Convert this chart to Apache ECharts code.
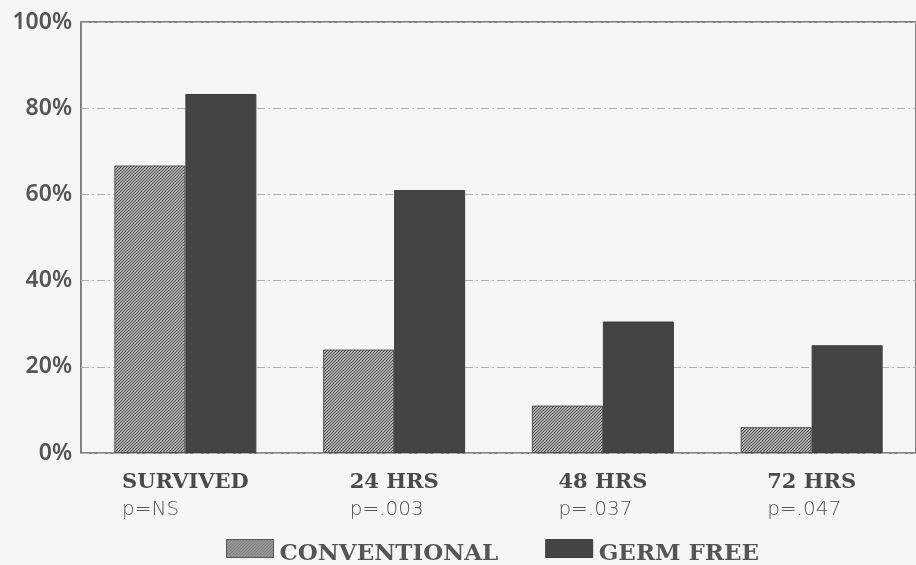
<!DOCTYPE html>
<html>
<head>
<meta charset="utf-8">
<script src="https://cdn.jsdelivr.net/npm/echarts@6/dist/echarts.min.js"></script>
<style>
html,body{margin:0;padding:0;background:#f6f6f4;}
#c{width:916px;height:565px;}
</style>
</head>
<body>
<div id="c"></div>
<script>
var categories = ['SURVIVED', '24 HRS', '48 HRS', '72 HRS'];
var pValues = ['p=NS', 'p=.003', 'p=.037', 'p=.047'];
var conventional = [66.7, 24, 11, 6];
var germFree = [83.3, 61, 30.5, 25];
var yTicks = [0, 20, 40, 60, 80, 100];

function hatch() {
  var cv = document.createElement('canvas');
  cv.width = 3; cv.height = 3;
  var g = cv.getContext('2d');
  g.fillStyle = '#d2d2d0';
  g.fillRect(0, 0, 3, 3);
  g.strokeStyle = '#4e4e4e';
  g.lineWidth = 1.1;
  g.beginPath();
  g.moveTo(-1, 4); g.lineTo(4, -1);
  g.moveTo(-1, 1); g.lineTo(1, -1);
  g.moveTo(2, 4); g.lineTo(4, 2);
  g.stroke();
  return cv;
}
var hatchPattern = {image: hatch(), repeat: 'repeat'};

var labelMap = {};
categories.forEach(function (c, i) { labelMap[c] = pValues[i]; });

var serif = '"DejaVu Serif", "Liberation Serif", serif';
var legendIcon = 'path://M0,0H47V18H0Z M0,29H0.05V28.95Z';

var chart = echarts.init(document.getElementById('c'));
chart.setOption({
  backgroundColor: '#f6f6f4',
  animation: false,
  grid: {left: 81, top: 22, width: 844, height: 431, show: true, borderColor: '#5c5c5c', borderWidth: 1.5, backgroundColor: 'transparent'},
  legend: {
    left: 226, top: 539, padding: 0,
    itemWidth: 47, itemHeight: 29, itemGap: 47,
    textStyle: {fontFamily: serif, fontWeight: 'bold', fontSize: 23, color: '#555', padding: [0, 0, 0, 1]},
    data: [
      {name: 'CONVENTIONAL', icon: legendIcon, itemStyle: {color: hatchPattern, borderColor: '#555', borderWidth: 1}},
      {name: 'GERM FREE', icon: legendIcon, itemStyle: {color: '#444', borderColor: '#3c3c3c', borderWidth: 1}}
    ]
  },
  xAxis: {
    type: 'category',
    data: categories,
    axisLine: {show: false},
    axisTick: {show: false},
    axisLabel: {
      margin: 16,
      formatter: function (v) { return '{h|' + v + '}\n{p|' + labelMap[v] + '}'; },
      rich: {
        h: {fontFamily: serif, fontWeight: 'bold', fontSize: 21, color: '#4a4a4a', align: 'left', lineHeight: 27},
        p: {fontFamily: '"DejaVu Sans", sans-serif', fontWeight: 200, fontSize: 20, color: '#555', align: 'left', lineHeight: 27}
      }
    }
  },
  yAxis: {
    type: 'value',
    min: 0, max: 100, interval: 20,
    axisLine: {show: false},
    axisTick: {show: false},
    splitLine: {show: true, lineStyle: {color: '#b0b0b0', width: 1, type: [8, 3, 2, 3]}},
    axisLabel: {
      margin: 9,
      fontFamily: '"Noto Sans", sans-serif', fontWeight: 600, fontSize: 23, color: '#555',
      formatter: function (v) { return yTicks.indexOf(v) >= 0 ? v + '%' : ''; }
    }
  },
  series: [
    {
      name: 'CONVENTIONAL', type: 'bar', data: conventional,
      barWidth: 71, barGap: '0%',
      itemStyle: {color: hatchPattern, borderColor: '#555', borderWidth: 1}
    },
    {
      name: 'GERM FREE', type: 'bar', data: germFree,
      barWidth: 71,
      itemStyle: {color: '#444', borderColor: '#3c3c3c', borderWidth: 1}
    }
  ]
});
</script>
</body>
</html>
